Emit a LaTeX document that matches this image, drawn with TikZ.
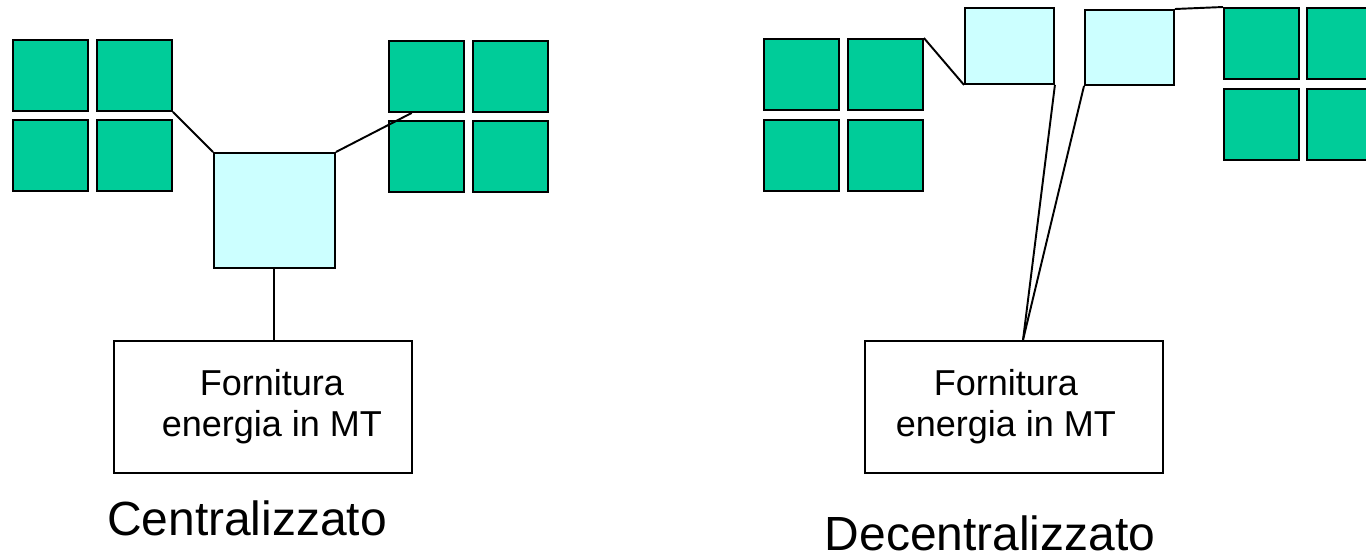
\documentclass[tikz,border=0pt]{standalone}
\usepackage{fontspec}
\setmainfont{Liberation Sans}
\usepackage{tikz}
\usepackage{xcolor}
\usetikzlibrary{positioning}

\definecolor{tilegreen}{RGB}{0,204,153}
\definecolor{hubcyan}{RGB}{204,255,255}

\tikzset{
  tile/.style={draw, fill=tilegreen, line width=1.1pt, inner sep=0pt,
    minimum width=1.5cm, minimum height=1.42cm, anchor=north west},
  hub/.style={draw, fill=hubcyan, line width=1.1pt, inner sep=0pt, anchor=north west},
  feedbox/.style={draw, line width=1.1pt, inner sep=0pt, align=center,
    minimum width=5.96cm, minimum height=2.64cm, anchor=north west,
    font=\fontsize{20.5}{23.5}\selectfont},
  caption/.style={anchor=base, inner sep=0pt, font=\fontsize{27.3}{32}\selectfont}
}

\begin{document}
\begin{tikzpicture}[x=0.02cm, y=-0.02cm, line width=1.1pt]
  \useasboundingbox (0,0) rectangle (1366,556);
  % centralizzato
  \node[tile] (a1) at (12,39) {};
  \node[tile] (a2) at (96,39) {};
  \node[tile] (a3) at (12,119) {};
  \node[tile] (a4) at (96,119) {};
  \node[tile] (b1) at (388,40) {};
  \node[tile] (b2) at (472,40) {};
  \node[tile] (b3) at (388,120) {};
  \node[tile] (b4) at (472,120) {};
  \node[hub, minimum width=2.42cm, minimum height=2.3cm] (hubL) at (213,152) {};
  \node[feedbox] (boxL) at (113,340) {\hspace*{0.36cm}Fornitura\\\hspace*{0.36cm}energia in MT};
  \draw (a2.south east) -- (hubL.north west);
  \draw (hubL.north east) -- (b1.-112);
  \draw (hubL.south) -- (hubL.south |- boxL.north);
  \node[caption] (capL) at (247,535) {Centralizzato};
  % decentralizzato
  \node[tile] (c1) at (763,38) {};
  \node[tile] (c2) at (847,38) {};
  \node[tile] (c3) at (763,119) {};
  \node[tile] (c4) at (847,119) {};
  \node[hub, minimum width=1.78cm, minimum height=1.52cm] (s1) at (964,7) {};
  \node[hub, minimum width=1.78cm, minimum height=1.5cm] (s2) at (1084,9) {};
  \node[tile] (d1) at (1223,7) {};
  \node[tile] (d2) at (1306,7) {};
  \node[tile] (d3) at (1223,88) {};
  \node[tile] (d4) at (1306,88) {};
  \node[feedbox] (boxR) at (864,340) {Fornitura\hspace*{0.32cm}\\energia in MT\hspace*{0.32cm}};
  \coordinate (tap) at (1023,340);
  \draw (c2.north east) -- (s1.south west);
  \draw (s1.south east) -- (tap);
  \draw (s2.south west) -- (tap);
  \draw (s2.north east) -- (d1.north west);
  \node[caption] (capR) at (990,550) {Decentralizzato};
\end{tikzpicture}
\end{document}
